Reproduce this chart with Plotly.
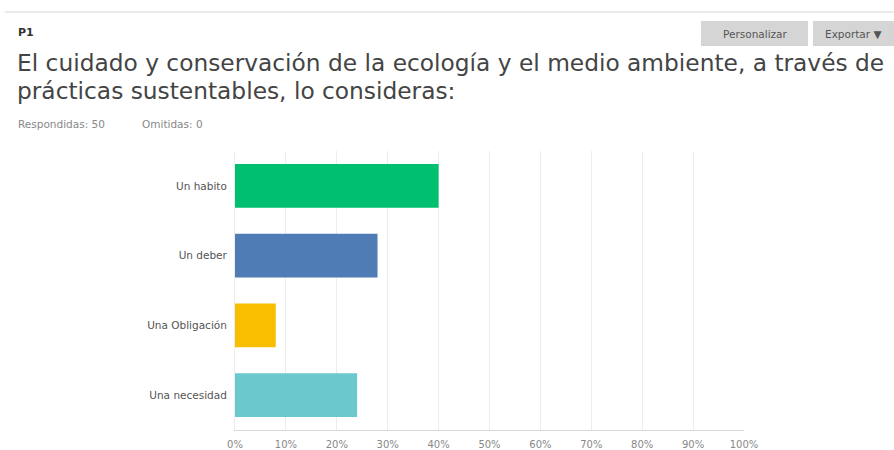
import plotly.graph_objects as go

categories = ["Un habito", "Un deber", "Una Obligación", "Una necesidad"]
values = [0.40, 0.28, 0.08, 0.24]
colors = ["#00BF6F", "#507CB6", "#F9BE00", "#6BC8CD"]
x_ticks = [0, 0.1, 0.2, 0.3, 0.4, 0.5, 0.6, 0.7, 0.8, 0.9, 1.0]
x_tick_labels = ["0%", "10%", "20%", "30%", "40%", "50%", "60%", "70%", "80%", "90%", "100%"]

W, H = 894, 450
L, R, T, B = 235, 744, 151, 430

def px(x):
    return (x - L) / (R - L)

def py(y):
    return (B - y) / (B - T)

fig = go.Figure(go.Bar(
    y=categories, x=values, orientation="h",
    marker=dict(color=colors, line=dict(width=0)),
    hoverinfo="skip",
))

fig.update_layout(
    width=W, height=H,
    margin=dict(l=L, r=W - R, t=T, b=H - B, pad=0, autoexpand=False),
    paper_bgcolor="white", plot_bgcolor="white",
    showlegend=False,
    bargap=0.37,
    font=dict(family="DejaVu Sans", color="#555"),
)
fig.update_xaxes(
    range=[0, 1], tickvals=x_ticks, ticktext=x_tick_labels,
    showgrid=True, gridcolor="#ececec", gridwidth=1,
    zeroline=False, showline=True, linecolor="#d9d9d9", linewidth=1,
    ticks="outside", ticklen=5, tickcolor="rgba(0,0,0,0)",
    tickfont=dict(size=10, color="#888", family="DejaVu Sans"), fixedrange=True,
    automargin=False,
)
fig.update_yaxes(
    autorange="reversed", showgrid=False, zeroline=False, showline=True,
    linecolor="#ececec", linewidth=1,
    ticks="outside", ticklen=5, tickcolor="rgba(0,0,0,0)",
    tickfont=dict(size=10.5, color="#555", family="DejaVu Sans"), fixedrange=True,
    automargin=False,
)

shapes = [
    dict(type="line", xref="paper", yref="paper", x0=px(5), x1=px(894), y0=py(12), y1=py(12),
         line=dict(color="#e3e3e3", width=1.5)),
    dict(type="rect", xref="paper", yref="paper", x0=px(701), x1=px(808), y0=py(46), y1=py(21),
         fillcolor="#d5d5d5", line=dict(width=0)),
    dict(type="rect", xref="paper", yref="paper", x0=px(813), x1=px(900), y0=py(46), y1=py(21),
         fillcolor="#d5d5d5", line=dict(width=0)),
]
fig.update_layout(shapes=shapes)

def ann(text, x, y, size, color, xanchor="left", family="Open Sans"):
    return dict(text=text, xref="paper", yref="paper", x=px(x), y=py(y),
                xanchor=xanchor, yanchor="middle", showarrow=False,
                font=dict(size=size, color=color, family=family))

annotations = [
    ann("<b>P1</b>", 16, 32, 11, "#333", family="DejaVu Sans"),
    ann("Personalizar", 754.5, 33.5, 10.5, "#555", xanchor="center", family="DejaVu Sans"),
    ann("Exportar ▼", 823, 33.5, 10.5, "#555", family="DejaVu Sans"),
    ann("El cuidado y conservación de la ecología y el medio ambiente, a través de", 15, 63, 23.3, "#444", family="DejaVu Sans"),
    ann("prácticas sustentables, lo consideras:", 15, 90, 23.3, "#444", family="DejaVu Sans"),
    ann("Respondidas: 50", 16, 124, 10.5, "#888", family="DejaVu Sans"),
    ann("Omitidas: 0", 140, 124, 10.5, "#888", family="DejaVu Sans"),
]
fig.update_layout(annotations=annotations)

fig.write_html("out.html")
